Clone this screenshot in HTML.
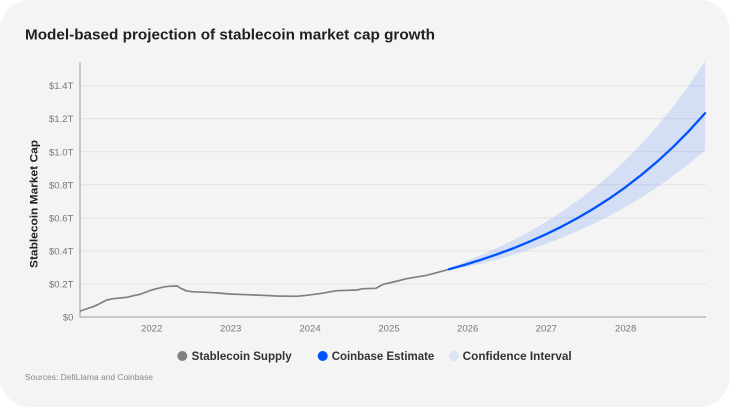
<!DOCTYPE html>
<html>
<head>
<meta charset="utf-8">
<style>
  html,body{margin:0;padding:0;background:#ffffff;}
  body{width:730px;height:408px;overflow:hidden;}
  svg{display:block;}
  text{font-family:"Liberation Sans", Arial, sans-serif;}
</style>
</head>
<body>
<svg width="730" height="408" viewBox="0 0 730 408" xmlns="http://www.w3.org/2000/svg">
  <!-- card -->
  <rect x="0" y="0" width="729.5" height="407" rx="30" ry="30" fill="#f4f4f4"/>

  <!-- title -->
  <text x="25" y="39.5" font-size="14.5" font-weight="bold" fill="#1f1f1f" textLength="410" lengthAdjust="spacingAndGlyphs">Model-based projection of stablecoin market cap growth</text>

  <!-- gridlines -->
  <g stroke="#e2e2e2" stroke-width="1">
    <line x1="80" y1="85.7" x2="706" y2="85.7"/>
    <line x1="80" y1="118.7" x2="706" y2="118.7"/>
    <line x1="80" y1="151.8" x2="706" y2="151.8"/>
    <line x1="80" y1="184.8" x2="706" y2="184.8"/>
    <line x1="80" y1="217.9" x2="706" y2="217.9"/>
    <line x1="80" y1="250.9" x2="706" y2="250.9"/>
    <line x1="80" y1="284" x2="706" y2="284"/>
  </g>

  <!-- confidence band -->
  <path fill="rgba(0,82,255,0.13)" d="M449,269.26 L465,261.68 L481,254.97 L497,247.84 L513,240.12 L529,231.69 L545,222.44 L561,212.31 L577,201.18 L593,188.94 L609,175.49 L625,160.69 L641,144.41 L657,126.52 L673,106.82 L689,85.14 L705,61.29 L705,150.2 L689,163.7 L673,176.05 L657,187.4 L641,197.78 L625,207.31 L609,216.05 L593,224.05 L577,231.38 L561,238.08 L545,244.22 L529,249.82 L513,254.91 L497,259.53 L481,263.67 L465,267.28 Z"/>

  <!-- axes -->
  <line x1="80" y1="62" x2="80" y2="317.5" stroke="#9a9a9a" stroke-width="1"/>
  <line x1="79.5" y1="317" x2="706" y2="317" stroke="#9a9a9a" stroke-width="1"/>

  <!-- stablecoin supply -->
  <polyline fill="none" stroke="#808080" stroke-width="1.7" stroke-linejoin="round" stroke-linecap="round"
    points="80.5,311 86,309 93.3,306.7 100,303.5 106.7,300 113.3,298.7 120,298 126.7,297.3 133,295.8 140,294.3 151.7,290 158,288.3 165,286.7 171,286.2 177.3,286 180.7,288.3 186,290.7 191.7,291.7 206.7,292.3 218,293 230,294 246.7,294.7 260,295.2 276.7,296 296.7,296.3 306.7,295.3 321.7,293.3 336.7,290.7 356.7,290 363.3,288.7 376,288.3 383.3,284.3 393.3,282 406.7,278.7 426.7,275.3 436.7,272.7 449,269.3"/>

  <!-- coinbase estimate -->
  <polyline fill="none" stroke="#0052ff" stroke-width="2.3" stroke-linejoin="round" stroke-linecap="round"
    points="449,269.26 465,264.73 481,259.76 497,254.33 513,248.38 529,241.87 545,234.73 561,226.92 577,218.38 593,209.01 609,198.77 625,187.53 641,175.24 657,161.79 673,147.06 689,130.93 705,113.26"/>

  <!-- y tick labels -->
  <g font-size="9.6" fill="#777777" text-anchor="end">
    <text x="73.5" y="89.2">$1.4T</text>
    <text x="73.5" y="122.2">$1.2T</text>
    <text x="73.5" y="155.3">$1.0T</text>
    <text x="73.5" y="188.3">$0.8T</text>
    <text x="73.5" y="221.4">$0.6T</text>
    <text x="73.5" y="254.4">$0.4T</text>
    <text x="73.5" y="287.5">$0.2T</text>
    <text x="73.5" y="320.5">$0</text>
  </g>

  <!-- x tick labels -->
  <g font-size="9.6" fill="#777777" text-anchor="middle">
    <text x="151.7" y="331.6">2022</text>
    <text x="230.7" y="331.6">2023</text>
    <text x="310" y="331.6">2024</text>
    <text x="389" y="331.6">2025</text>
    <text x="467.7" y="331.6">2026</text>
    <text x="546.3" y="331.6">2027</text>
    <text x="625.7" y="331.6">2028</text>
  </g>

  <!-- y axis title -->
  <text transform="translate(37.5,204) rotate(-90)" text-anchor="middle" font-size="11" font-weight="bold" fill="#222222" textLength="128" lengthAdjust="spacingAndGlyphs">Stablecoin Market Cap</text>

  <!-- legend -->
  <circle cx="182.3" cy="356" r="5" fill="#808080"/>
  <text x="191.7" y="360" font-size="11.5" font-weight="bold" fill="#333333" textLength="100" lengthAdjust="spacingAndGlyphs">Stablecoin Supply</text>
  <circle cx="322.7" cy="356" r="5" fill="#0052ff"/>
  <text x="331.7" y="360" font-size="11.5" font-weight="bold" fill="#333333" textLength="102.6" lengthAdjust="spacingAndGlyphs">Coinbase Estimate</text>
  <circle cx="454" cy="356" r="5" fill="#dbe3f5"/>
  <text x="462.7" y="360" font-size="11.5" font-weight="bold" fill="#333333" textLength="109" lengthAdjust="spacingAndGlyphs">Confidence Interval</text>

  <!-- sources -->
  <text x="25" y="380.2" font-size="8" fill="#888888" textLength="128" lengthAdjust="spacingAndGlyphs">Sources: DefiLlama and Coinbase</text>
</svg>
</body>
</html>
